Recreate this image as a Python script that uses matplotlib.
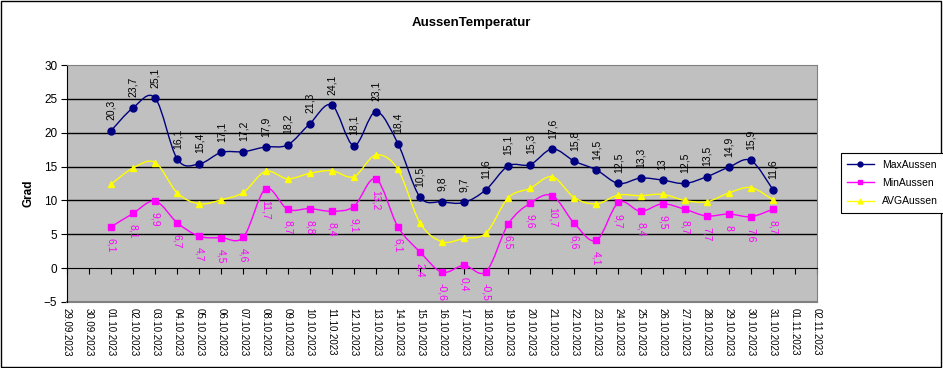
import numpy as np
import pandas as pd
import matplotlib
matplotlib.use("Agg")
import matplotlib.pyplot as plt
from matplotlib.path import Path
from matplotlib.patches import PathPatch, Rectangle

plt.rcParams['font.family'] = ['Liberation Sans', 'DejaVu Sans']

# Datumsachse 29.09.2023 - 02.11.2023
dates = pd.date_range("2023-09-29", "2023-11-02")
date_labels = [d.strftime("%d.%m.%Y") for d in dates]
# Messwerte 01.10. - 31.10.
data_dates = pd.date_range("2023-10-01", "2023-10-31")

max_aussen = [20.3, 23.7, 25.1, 16.1, 15.4, 17.1, 17.2, 17.9, 18.2, 21.3, 24.1,
              18.1, 23.1, 18.4, 10.5, 9.8, 9.7, 11.6, 15.1, 15.3, 17.6, 15.8,
              14.5, 12.5, 13.3, 13.0, 12.5, 13.5, 14.9, 15.9, 11.6]
min_aussen = [6.1, 8.1, 9.9, 6.7, 4.7, 4.5, 4.6, 11.7, 8.7, 8.8, 8.4,
              9.1, 13.2, 6.1, 2.4, -0.6, 0.4, -0.5, 6.5, 9.6, 10.7, 6.6,
              4.1, 9.7, 8.4, 9.5, 8.7, 7.7, 8.0, 7.6, 8.7]
avg_aussen = [12.4, 14.8, 15.6, 11.1, 9.5, 10.1, 11.2, 14.3, 13.2, 14.0, 14.4,
              13.5, 16.7, 14.6, 6.7, 3.9, 4.4, 5.2, 10.4, 11.8, 13.5, 10.4,
              9.5, 10.8, 10.7, 10.9, 10.0, 9.8, 11.1, 11.9, 10.1]


def smooth_path(x, y):
    """Glatte Linie wie in Excel (Catmull-Rom als Bezier)"""
    pts = np.column_stack([x, y]).astype(float)
    verts = [pts[0]]
    codes = [Path.MOVETO]
    n = len(pts)
    for i in range(n - 1):
        p0 = pts[max(i - 1, 0)]
        p1 = pts[i]
        p2 = pts[i + 1]
        p3 = pts[min(i + 2, n - 1)]
        c1 = p1 + (p2 - p0) / 6.0
        c2 = p2 - (p3 - p1) / 6.0
        verts += [c1, c2, p2]
        codes += [Path.CURVE4] * 3
    return Path(verts, codes)


def fmt(v):
    s = f"{v:.1f}".replace(".", ",")
    if s.endswith(",0"):
        s = s[:-2]
    return s


fig = plt.figure(figsize=(9.43, 3.68), dpi=100)
ax = fig.add_axes([67 / 943, 1 - 302 / 368, 750 / 943, 237 / 368])
ax.set_facecolor("#C0C0C0")

x_all = np.arange(len(dates))
x_data = np.array([(d - dates[0]).days for d in data_dates])

series = [
    ("MaxAussen", max_aussen, "#000080", "o", 5),
    ("MinAussen", min_aussen, "#FF00FF", "s", 5),
    ("AVGAussen", avg_aussen, "#FFFF00", "^", 5),
]
for name, vals, col, mk, ms in series:
    ax.add_patch(PathPatch(smooth_path(x_data, vals), facecolor="none",
                           edgecolor=col, lw=1.0, zorder=3))
    ax.plot(x_data, vals, linestyle="none", marker=mk, markersize=ms,
            color=col, label=name, zorder=4)

# Datenbeschriftungen
for xi, v in zip(x_data, max_aussen):
    ax.annotate(fmt(v), (xi, v), xytext=(0, 7.5), textcoords="offset points",
                rotation=90, ha="center", va="bottom", fontsize=7.5,
                color="black", zorder=5)
for xi, v in zip(x_data, min_aussen):
    ax.annotate(fmt(v), (xi, v), xytext=(0, -8), textcoords="offset points",
                rotation=270, ha="center", va="top", fontsize=7.5,
                color="#FF00FF", zorder=5)

ax.set_xlim(0, len(dates) - 1)
ax.set_ylim(-5, 30)
ax.set_yticks(np.arange(-5, 31, 5))
for g in range(5, 30, 5):
    ax.axhline(g, color="black", lw=1.0, zorder=1)

for s in ["top", "right"]:
    ax.spines[s].set_color("#808080")
ax.spines["left"].set_color("black")
ax.spines["bottom"].set_position(("data", 0))
ax.spines["bottom"].set_color("black")
ax.plot([0, 1], [0, 0], transform=ax.transAxes, color="#808080", lw=1.5,
        clip_on=False, zorder=2)

ax.set_xticks(x_all)
ax.tick_params(axis="x", labelbottom=False, length=4, width=0.8, direction="out")
ax.tick_params(axis="y", labelsize=8.5, length=4, width=0.8, pad=3)

tr = ax.get_xaxis_transform()
for xi, lab in zip(x_all, date_labels):
    ax.text(xi, -0.025, lab, transform=tr, rotation=270, ha="center",
            va="top", fontsize=7)

fig.text(0.5, 1 - 23 / 368, "AussenTemperatur", ha="center", va="center",
         fontsize=9.5, fontweight="bold")
fig.text(28 / 943, 1 - 193 / 368, "Grad", rotation=90, ha="center",
         va="center", fontsize=8.5, fontweight="bold")

leg = fig.legend(loc="center left", bbox_to_anchor=(836 / 943, 1 - 183 / 368),
                 fontsize=7.5, frameon=True, fancybox=False, framealpha=1,
                 edgecolor="black", borderpad=0.6, handlelength=2.5,
                 labelspacing=0.8, markerscale=0.7)
leg.get_frame().set_linewidth(0.8)
for h in leg.legend_handles:
    h.set_linestyle("-")
    h.set_linewidth(1.0)

fig.add_artist(Rectangle((0.001, 0.002), 0.997, 0.995, transform=fig.transFigure,
                         fill=False, edgecolor="black", lw=1))

fig.savefig("out.png", dpi=100)
